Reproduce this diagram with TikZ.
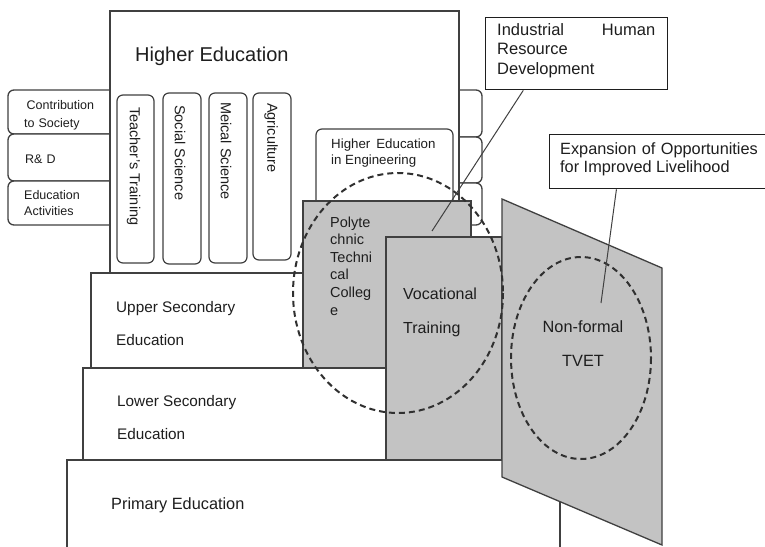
\documentclass[tikz,border=0pt]{standalone}
\usepackage{fontspec}
\setmainfont{Liberation Sans}
\usetikzlibrary{calc}
\definecolor{lineC}{HTML}{404040}
\definecolor{panel}{HTML}{C3C3C3}
\definecolor{ringC}{HTML}{303030}
\definecolor{ink}{HTML}{1E1E1E}
\newcommand{\fs}[2]{\fontsize{#1}{#2}\selectfont}
\begin{document}
\begin{tikzpicture}[x=1pt,y=-1pt,
  box/.style={draw=lineC, line width=1.3pt, fill=white},
  grayb/.style={draw=lineC, line width=1.3pt, fill=panel},
  tabbox/.style={draw=lineC, line width=1.3pt, fill=white, rounded corners=6pt},
  colbox/.style={draw=lineC, line width=1.2pt, fill=white, rounded corners=6pt},
  ring/.style={draw=ringC, line width=2pt, dash pattern=on 6pt off 4pt},
  leader/.style={draw=lineC, line width=1pt},
  callout/.style={draw=ink, line width=1.3pt, fill=white, inner sep=0pt, anchor=north west},
  % multi-line labels are placed by the baseline of their last line
  lbl/.style={inner sep=0pt, anchor=base west, text=ink, align=left},
  vlbl/.style={inner sep=0pt, anchor=west, rotate=-90, text=ink}]
\useasboundingbox (0,0) rectangle (765,546);
\clip (0,0) rectangle (765,546);
\fill[white] (0,0) rectangle (765,546);

% side tabs of the higher education block
\draw[tabbox] (8,90) rectangle (120,134);
\draw[tabbox] (8,134) rectangle (120,181);
\draw[tabbox] (8,181) rectangle (120,225);
\draw[tabbox] (440,90) rectangle (482,137);
\draw[tabbox] (440,137) rectangle (482,183);
\draw[tabbox] (440,183) rectangle (482,225);

% higher education block
\draw[box] (110,11) rectangle (459,273);

% faculty columns
\draw[colbox] (117,95) rectangle (154,263);
\draw[colbox] (163,93) rectangle (201,264);
\draw[colbox] (209,93) rectangle (247,263);
\draw[colbox] (253,93) rectangle (291,260);
\draw[colbox] (316,129) rectangle (453,215);

% school levels
\draw[box] (91,273) rectangle (310,368);
\draw[box] (83,368) rectangle (386,460);
\draw[box] (67,460) rectangle (560,560);

% TVET blocks
\draw[grayb] (303,201) rectangle (471,368);
\draw[grayb] (386,237) rectangle (502,460);
\draw[grayb] (502,199) -- (662,268) -- (662,545) -- (502,477) -- cycle;

% dashed groupings
\draw[ring] (398,293) ellipse [x radius=105, y radius=120];
\draw[ring] (581,358) ellipse [x radius=70, y radius=101];

% callout boxes and leaders
\node[callout, minimum width=182pt, minimum height=72pt] (ind) at (485,17) {};
\node[callout, minimum width=222pt, minimum height=54pt] (exp) at (549,134) {};
\coordinate (indtip) at (432,231);
\coordinate (exptip) at (601,303);
\draw[leader] ($(ind.south west)!0.209!(ind.south east)$) -- (indtip);
\draw[leader] ($(exp.south west)!0.302!(exp.south east)$) -- (exptip);

% labels
\node[lbl, font=\fs{20}{24}] (tHigher) at (135,61) {Higher Education};
\node[lbl, font=\fs{12.5}{18}] (tContrib) at (24,127) {\hspace*{2.5pt}Contribution\\to\hspace{4pt}Society};
\node[lbl, font=\fs{12.5}{16}] (tRD) at (25,163) {R\&\hspace{4pt}D};
\node[lbl, font=\fs{12.5}{16}] (tEduAct) at (24,215) {Education\\Activities};

\node[vlbl, font=\fs{14.5}{16}] (tTeach) at (133.5,107) {Teacher's Training};
\node[vlbl, font=\fs{14.5}{16}] (tSocial) at (180,105) {Social Science};
\node[vlbl, font=\fs{14.5}{16}] (tMed) at (226,102) {Meical Science};
\node[vlbl, font=\fs{14.5}{16}] (tAgri) at (271,103) {Agriculture};

\node[lbl, font=\fs{13.3}{16}] (tEng) at (331,164) {Higher\hspace{6pt}Education\\in Engineering};
\node[lbl, font=\fs{14.5}{17.6}] (tPoly) at (330,315) {Polyte\\chnic\\Techni\\cal\\Colleg\\e};
\node[lbl, font=\fs{16}{34}] (tVoc) at (403,333) {Vocational\\Training};
\node[lbl, font=\fs{15.3}{33}] (tUpper) at (116,345) {Upper Secondary\\Education};
\node[lbl, font=\fs{15.3}{33}] (tLower) at (117,439) {Lower Secondary\\Education};
\node[lbl, font=\fs{16.3}{20}] (tPrim) at (111,509) {Primary Education};
\node[inner sep=0pt, anchor=base, text=ink, align=center, font=\fs{16.3}{34}] (tNon) at (583,366) {Non-formal\\TVET};

% fixed-width paragraph: placed by the baseline of its first line
\node[lbl, font=\fs{16.5}{19.5}, text width=158pt] (tInd) at (497,35) {Industrial\hfill Human\\Resource\\Development};
\node[lbl, font=\fs{16.3}{18}] (tExp) at (560,172) {Expansion\hspace{5.5pt}of\hspace{5.5pt}Opportunities\\for Improved Livelihood};
\end{tikzpicture}
\end{document}
